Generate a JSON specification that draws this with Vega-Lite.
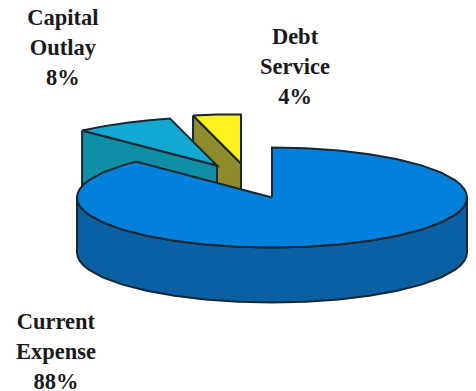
{
  "$schema": "https://vega.github.io/schema/vega-lite/v6.json",
  "autosize": {"type": "none"},
  "width": 476,
  "height": 391,
  "padding": 0,
  "background": "#ffffff",
  "view": {"stroke": null},
  "datasets": {
    "surfaces": [
      {"surface":"1 Debt Service side","vertex":0,"x":-40.5,"y":42.05},
      {"surface":"1 Debt Service side","vertex":1,"x":-15.9,"y":17.44},
      {"surface":"1 Debt Service side","vertex":2,"x":-15.9,"y":3.59},
      {"surface":"1 Debt Service side","vertex":3,"x":-40.5,"y":9.74},
      {"surface":"1 Debt Service side","vertex":4,"x":-40.5,"y":42.05},
      {"surface":"2 Debt Service top","vertex":0,"x":-40.5,"y":42.05},
      {"surface":"2 Debt Service top","vertex":1,"x":-28.2,"y":42.6},
      {"surface":"2 Debt Service top","vertex":2,"x":-15.9,"y":42.56},
      {"surface":"2 Debt Service top","vertex":3,"x":-15.9,"y":17.44},
      {"surface":"2 Debt Service top","vertex":4,"x":-40.5,"y":42.05},
      {"surface":"3 Capital Outlay side","vertex":0,"x":-97.4,"y":34.36},
      {"surface":"3 Capital Outlay side","vertex":1,"x":-28.2,"y":16.41},
      {"surface":"3 Capital Outlay side","vertex":2,"x":-28.2,"y":7.69},
      {"surface":"3 Capital Outlay side","vertex":3,"x":-97.4,"y":3.59},
      {"surface":"3 Capital Outlay side","vertex":4,"x":-97.4,"y":34.36},
      {"surface":"4 Capital Outlay top","vertex":0,"x":-97.4,"y":34.36},
      {"surface":"4 Capital Outlay top","vertex":1,"x":-86,"y":36.6},
      {"surface":"4 Capital Outlay top","vertex":2,"x":-74.4,"y":38.3},
      {"surface":"4 Capital Outlay top","vertex":3,"x":-63,"y":39.6},
      {"surface":"4 Capital Outlay top","vertex":4,"x":-52.3,"y":40.51},
      {"surface":"4 Capital Outlay top","vertex":5,"x":-28.2,"y":16.41},
      {"surface":"4 Capital Outlay top","vertex":6,"x":-97.4,"y":34.36},
      {"surface":"5 Current Expense side","vertex":0,"x":100,"y":0},
      {"surface":"5 Current Expense side","vertex":1,"x":99.6,"y":-2.24},
      {"surface":"5 Current Expense side","vertex":2,"x":98.5,"y":-4.45},
      {"surface":"5 Current Expense side","vertex":3,"x":96.6,"y":-6.64},
      {"surface":"5 Current Expense side","vertex":4,"x":94,"y":-8.77},
      {"surface":"5 Current Expense side","vertex":5,"x":86.6,"y":-12.82},
      {"surface":"5 Current Expense side","vertex":6,"x":76.6,"y":-16.48},
      {"surface":"5 Current Expense side","vertex":7,"x":64.3,"y":-19.64},
      {"surface":"5 Current Expense side","vertex":8,"x":50,"y":-22.2},
      {"surface":"5 Current Expense side","vertex":9,"x":34.2,"y":-24.09},
      {"surface":"5 Current Expense side","vertex":10,"x":17.4,"y":-25.25},
      {"surface":"5 Current Expense side","vertex":11,"x":0,"y":-25.64},
      {"surface":"5 Current Expense side","vertex":12,"x":-17.4,"y":-25.25},
      {"surface":"5 Current Expense side","vertex":13,"x":-34.2,"y":-24.09},
      {"surface":"5 Current Expense side","vertex":14,"x":-50,"y":-22.2},
      {"surface":"5 Current Expense side","vertex":15,"x":-64.3,"y":-19.64},
      {"surface":"5 Current Expense side","vertex":16,"x":-76.6,"y":-16.48},
      {"surface":"5 Current Expense side","vertex":17,"x":-86.6,"y":-12.82},
      {"surface":"5 Current Expense side","vertex":18,"x":-94,"y":-8.77},
      {"surface":"5 Current Expense side","vertex":19,"x":-96.6,"y":-6.64},
      {"surface":"5 Current Expense side","vertex":20,"x":-98.5,"y":-4.45},
      {"surface":"5 Current Expense side","vertex":21,"x":-99.6,"y":-2.24},
      {"surface":"5 Current Expense side","vertex":22,"x":-100,"y":0},
      {"surface":"5 Current Expense side","vertex":23,"x":-100,"y":-28.2},
      {"surface":"5 Current Expense side","vertex":24,"x":-99.6,"y":-30.44},
      {"surface":"5 Current Expense side","vertex":25,"x":-98.5,"y":-32.65},
      {"surface":"5 Current Expense side","vertex":26,"x":-96.6,"y":-34.84},
      {"surface":"5 Current Expense side","vertex":27,"x":-94,"y":-36.97},
      {"surface":"5 Current Expense side","vertex":28,"x":-86.6,"y":-41.02},
      {"surface":"5 Current Expense side","vertex":29,"x":-76.6,"y":-44.68},
      {"surface":"5 Current Expense side","vertex":30,"x":-64.3,"y":-47.84},
      {"surface":"5 Current Expense side","vertex":31,"x":-50,"y":-50.4},
      {"surface":"5 Current Expense side","vertex":32,"x":-34.2,"y":-52.29},
      {"surface":"5 Current Expense side","vertex":33,"x":-17.4,"y":-53.45},
      {"surface":"5 Current Expense side","vertex":34,"x":0,"y":-53.84},
      {"surface":"5 Current Expense side","vertex":35,"x":17.4,"y":-53.45},
      {"surface":"5 Current Expense side","vertex":36,"x":34.2,"y":-52.29},
      {"surface":"5 Current Expense side","vertex":37,"x":50,"y":-50.4},
      {"surface":"5 Current Expense side","vertex":38,"x":64.3,"y":-47.84},
      {"surface":"5 Current Expense side","vertex":39,"x":76.6,"y":-44.68},
      {"surface":"5 Current Expense side","vertex":40,"x":86.6,"y":-41.02},
      {"surface":"5 Current Expense side","vertex":41,"x":94,"y":-36.97},
      {"surface":"5 Current Expense side","vertex":42,"x":96.6,"y":-34.84},
      {"surface":"5 Current Expense side","vertex":43,"x":98.5,"y":-32.65},
      {"surface":"5 Current Expense side","vertex":44,"x":99.6,"y":-30.44},
      {"surface":"5 Current Expense side","vertex":45,"x":100,"y":-28.2},
      {"surface":"5 Current Expense side","vertex":46,"x":100,"y":0},
      {"surface":"6 Current Expense top","vertex":0,"x":0,"y":0},
      {"surface":"6 Current Expense top","vertex":1,"x":0,"y":25.64},
      {"surface":"6 Current Expense top","vertex":2,"x":17.4,"y":25.25},
      {"surface":"6 Current Expense top","vertex":3,"x":34.2,"y":24.09},
      {"surface":"6 Current Expense top","vertex":4,"x":50,"y":22.2},
      {"surface":"6 Current Expense top","vertex":5,"x":64.3,"y":19.64},
      {"surface":"6 Current Expense top","vertex":6,"x":76.6,"y":16.48},
      {"surface":"6 Current Expense top","vertex":7,"x":86.6,"y":12.82},
      {"surface":"6 Current Expense top","vertex":8,"x":94,"y":8.77},
      {"surface":"6 Current Expense top","vertex":9,"x":96.6,"y":6.64},
      {"surface":"6 Current Expense top","vertex":10,"x":98.5,"y":4.45},
      {"surface":"6 Current Expense top","vertex":11,"x":99.6,"y":2.24},
      {"surface":"6 Current Expense top","vertex":12,"x":100,"y":0},
      {"surface":"6 Current Expense top","vertex":13,"x":99.6,"y":-2.24},
      {"surface":"6 Current Expense top","vertex":14,"x":98.5,"y":-4.45},
      {"surface":"6 Current Expense top","vertex":15,"x":96.6,"y":-6.64},
      {"surface":"6 Current Expense top","vertex":16,"x":94,"y":-8.77},
      {"surface":"6 Current Expense top","vertex":17,"x":86.6,"y":-12.82},
      {"surface":"6 Current Expense top","vertex":18,"x":76.6,"y":-16.48},
      {"surface":"6 Current Expense top","vertex":19,"x":64.3,"y":-19.64},
      {"surface":"6 Current Expense top","vertex":20,"x":50,"y":-22.2},
      {"surface":"6 Current Expense top","vertex":21,"x":34.2,"y":-24.09},
      {"surface":"6 Current Expense top","vertex":22,"x":17.4,"y":-25.25},
      {"surface":"6 Current Expense top","vertex":23,"x":0,"y":-25.64},
      {"surface":"6 Current Expense top","vertex":24,"x":-17.4,"y":-25.25},
      {"surface":"6 Current Expense top","vertex":25,"x":-34.2,"y":-24.09},
      {"surface":"6 Current Expense top","vertex":26,"x":-50,"y":-22.2},
      {"surface":"6 Current Expense top","vertex":27,"x":-64.3,"y":-19.64},
      {"surface":"6 Current Expense top","vertex":28,"x":-76.6,"y":-16.48},
      {"surface":"6 Current Expense top","vertex":29,"x":-86.6,"y":-12.82},
      {"surface":"6 Current Expense top","vertex":30,"x":-94,"y":-8.77},
      {"surface":"6 Current Expense top","vertex":31,"x":-96.6,"y":-6.64},
      {"surface":"6 Current Expense top","vertex":32,"x":-98.5,"y":-4.45},
      {"surface":"6 Current Expense top","vertex":33,"x":-99.6,"y":-2.24},
      {"surface":"6 Current Expense top","vertex":34,"x":-100,"y":0},
      {"surface":"6 Current Expense top","vertex":35,"x":-99.6,"y":2.24},
      {"surface":"6 Current Expense top","vertex":36,"x":-98.5,"y":4.45},
      {"surface":"6 Current Expense top","vertex":37,"x":-96.6,"y":6.64},
      {"surface":"6 Current Expense top","vertex":38,"x":-94,"y":8.77},
      {"surface":"6 Current Expense top","vertex":39,"x":-86.6,"y":12.82},
      {"surface":"6 Current Expense top","vertex":40,"x":-76.6,"y":16.48},
      {"surface":"6 Current Expense top","vertex":41,"x":-69.7,"y":18.46},
      {"surface":"6 Current Expense top","vertex":42,"x":0,"y":0}
    ],
    "labels": [
      {"label":"Capital\nOutlay\n8%","x":-107.2,"y":92.3},
      {"label":"Debt\nService\n4%","x":11.8,"y":82.05},
      {"label":"Current\nExpense\n88%","x":-110.8,"y":-64.1}
    ]
  },
  "layer": [
    {
      "data": {"name": "surfaces"},
      "mark": {"type": "line", "stroke": "#15272f", "strokeWidth": 2, "strokeJoin": "miter", "clip": false},
      "encoding": {
        "x": {"field": "x", "type": "quantitative", "axis": null, "scale": {"domain": [-139.49, 104.62], "nice": false, "zero": false}},
        "y": {"field": "y", "type": "quantitative", "axis": null, "scale": {"domain": [-99.24, 101.28], "nice": false, "zero": false}},
        "order": {"field": "vertex", "type": "quantitative"},
        "fill": {
          "field": "surface",
          "type": "nominal",
          "legend": null,
          "scale": {
            "domain": ["1 Debt Service side","2 Debt Service top","3 Capital Outlay side","4 Capital Outlay top","5 Current Expense side","6 Current Expense top"],
            "range": ["#8f8a2a","#fff11e","#0f8fa6","#12a8d2","#0a60a5","#0380dc"]
          }
        }
      }
    },
    {
      "data": {"name": "labels"},
      "mark": {"type": "text", "font": "Liberation Serif", "fontWeight": "bold", "fontSize": 22.5, "lineHeight": 30, "lineBreak": "\n", "align": "center", "baseline": "middle", "color": "#1a1a1a"},
      "encoding": {
        "x": {"field": "x", "type": "quantitative", "axis": null, "scale": {"domain": [-139.49, 104.62], "nice": false, "zero": false}},
        "y": {"field": "y", "type": "quantitative", "axis": null, "scale": {"domain": [-99.24, 101.28], "nice": false, "zero": false}},
        "text": {"field": "label", "type": "nominal"}
      }
    }
  ]
}
